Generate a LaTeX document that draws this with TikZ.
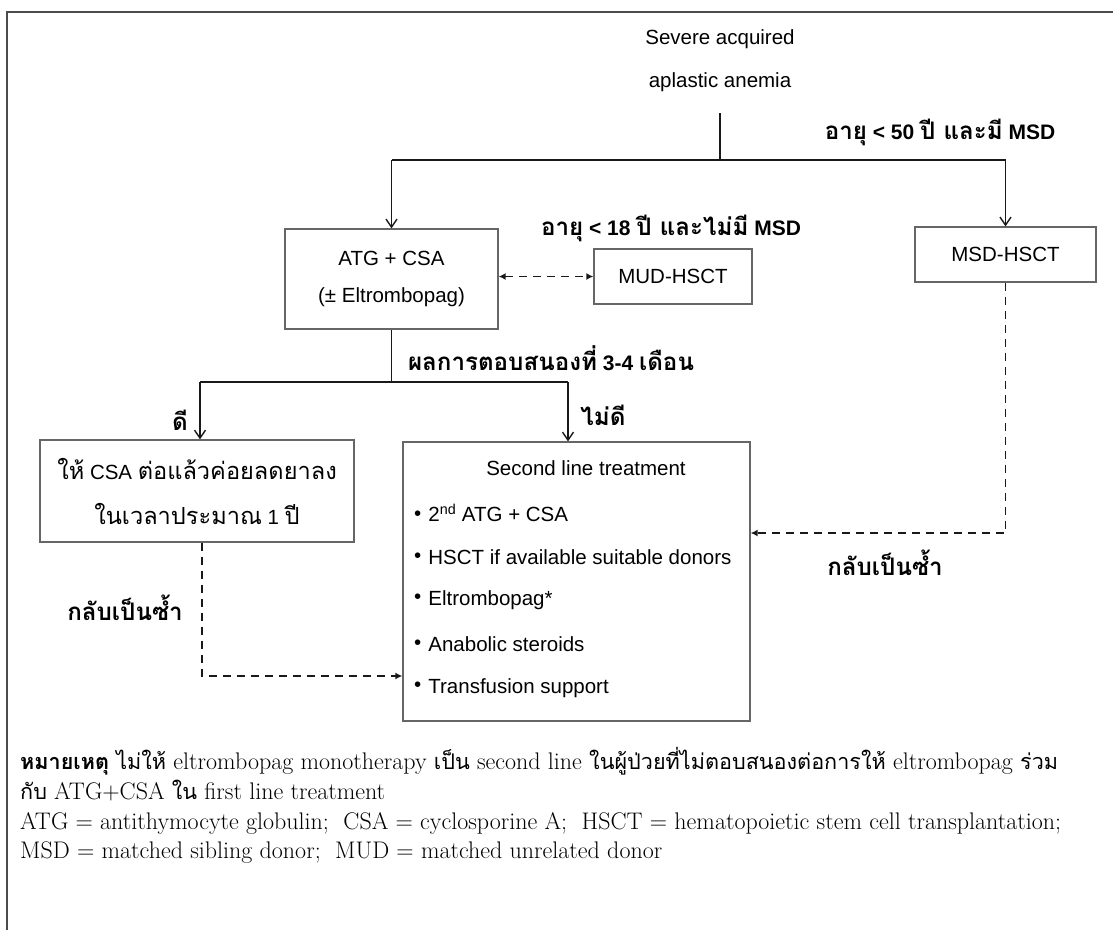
\documentclass[tikz,border=0pt]{standalone}
\usepackage{fontspec}
\newfontfamily\arial{Liberation Sans}
\newfontfamily\thai[Script=Thai,Scale=1.15]{Loma}
\newfontfamily\thain[Script=Thai,Scale=0.9]{Loma}
\usetikzlibrary{arrows.meta}
\newcommand\T[1]{{\thai #1}}
\newcommand\N[1]{{\thain #1}}
\newcommand\dsize{\fontsize{20.5}{24}\selectfont}
\newcommand\lsize{\fontsize{21}{24}\selectfont}
\newcommand\notefont{\rmfamily\fontsize{24}{26}\selectfont}
\newcommand\bul{\raisebox{1.5pt}{•}\hspace{7pt}}
\begin{document}
\begin{tikzpicture}[x=1pt,y=-1pt,
  box/.style={draw=black!60, line width=1.3pt, align=center, inner sep=0pt, font=\arial\dsize},
  conn/.style={line width=1.8pt, draw=black!90},
  arr/.style={conn, -{Straight Barb[length=8pt,width=11pt,line width=1.4pt]}},
  dsh/.style={line width=1.8pt, draw=black!90, dash pattern=on 8pt off 6pt},
  darr/.style={dsh, -{Latex[length=7pt,width=7pt]}},
  lbl/.style={font=\arial\bfseries\lsize, inner sep=0pt},
  txt/.style={font=\arial\dsize, inner sep=0pt},
  note/.style={font=\notefont, anchor=west, inner sep=0pt}]
\useasboundingbox (0,0) rectangle (1113,930);
\fill[white] (0,0) rectangle (1113,930);
\draw[line width=2pt, black!70] (1113,12) -- (7,12) -- (7,930);

% title
\node[txt, align=center, font=\arial\fontsize{20.5}{43}\selectfont] (title) at (720,61) {Severe acquired\\aplastic anemia};

% boxes
\node[box, minimum width=213pt, minimum height=100pt, font=\arial\fontsize{20.5}{37}\selectfont] (atg) at (391.5,279) {ATG + CSA\\(± Eltrombopag)};
\node[box, minimum width=158pt, minimum height=55pt] (mud) at (673,276.5) {MUD-HSCT};
\node[box, minimum width=181pt, minimum height=55pt] (msd) at (1005.5,254.5) {MSD-HSCT};
\node[box, minimum width=314pt, minimum height=102pt, font=\arial\fontsize{20.5}{45}\selectfont] (lbox) at (197,491) {\T{ให้} CSA \T{ต่อแล้วค่อยลดยาลง}\\\T{ในเวลาประมาณ} 1 \T{ปี}};
\node[box, minimum width=347pt, minimum height=279pt] (sbox) at (576.5,581.5) {};

% second line contents
\node[txt] (s0) at (586,468) {Second line treatment};
\node[txt, anchor=west] (s1) at (414,513) {\bul 2\textsuperscript{nd} ATG + CSA};
\node[txt, anchor=west] (s2) at (414,557) {\bul HSCT if available suitable donors};
\node[txt, anchor=west] (s3) at (414,600) {\bul Eltrombopag*};
\node[txt, anchor=west] (s4) at (414,644) {\bul Anabolic steroids};
\node[txt, anchor=west] (s5) at (414,688) {\bul Transfusion support};

% labels
\node[lbl] (l50) at (940,132) {\T{อายุ} < 50 \T{ปี และมี} MSD};
\node[lbl] (l18) at (671,228) {\T{อายุ} < 18 \T{ปี และไม่มี} MSD};
\node[lbl] (lres) at (551,358) {\T{ผลการตอบสนองที่} 3-4 \T{เดือน}};
\node[lbl] (lgood) at (180,420) {\T{ดี}};
\node[lbl] (lbad) at (603,415) {\T{ไม่ดี}};
\node[lbl] (lrel1) at (885,563) {\T{กลับเป็นซ้ำ}};
\node[lbl] (lrel2) at (125,608) {\T{กลับเป็นซ้ำ}};

% connectors
\coordinate (t0) at (720,113);
\coordinate (j1) at (720,160);
\coordinate (jl) at (391.5,160);
\coordinate (jr) at (1005.5,160);
\draw[conn] (t0) -- (j1);
\draw[conn] (jl) -- (jr);
\draw[arr] (jl) -- (atg.north);
\draw[arr] (jr) -- (msd.north);

\coordinate (j2) at (391.5,382);
\coordinate (jl2) at (200,382);
\coordinate (jr2) at (568,382);
\draw[conn] (atg.south) -- (j2);
\draw[conn] (jl2) -- (jr2);
\draw[arr] (jl2) -- (jl2 |- lbox.north);
\draw[arr] (jr2) -- (jr2 |- sbox.north);

\draw[dsh, {Latex[length=7pt,width=7pt]}-{Latex[length=7pt,width=7pt]}] (atg.east |- mud.west) -- (mud.west);

\coordinate (c3) at (1005.5,533);
\draw[darr] (msd.south) -- (c3) -- (c3 -| sbox.east);
\coordinate (c4) at (202,676);
\draw[darr] (c4 |- lbox.south) -- (c4) -- (c4 -| sbox.west);

% notes
\node[note] (n1) at (20,761) {{\thain\bfseries หมายเหตุ} \N{ไม่ให้} eltrombopag monotherapy \N{เป็น} second line \N{ในผู้ป่วยที่ไม่ตอบสนองต่อการให้} eltrombopag \N{ร่วม}};
\node[note] (n2) at (20,791) {\N{กับ} ATG+CSA \N{ใน} first line treatment};
\node[note] (n3) at (20,823) {ATG = antithymocyte globulin;\ \ CSA = cyclosporine A;\ \ HSCT = hematopoietic stem cell transplantation;};
\node[note] (n4) at (20,853) {MSD = matched sibling donor;\ \ MUD = matched unrelated donor};
\end{tikzpicture}
\end{document}
